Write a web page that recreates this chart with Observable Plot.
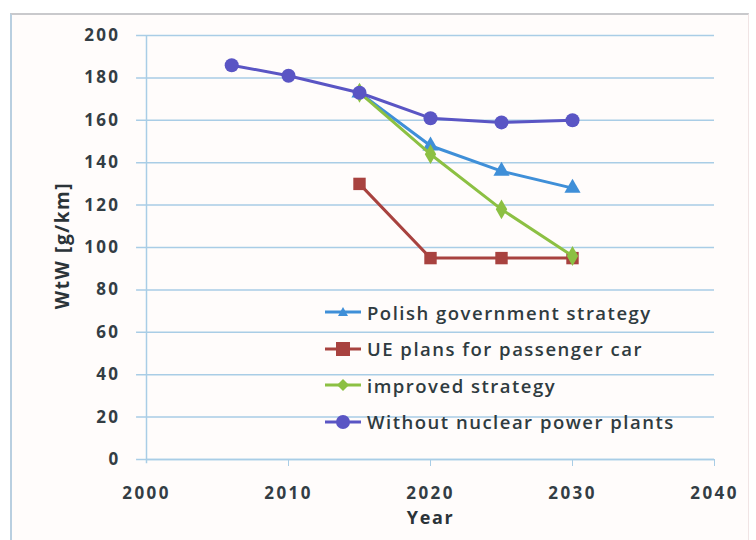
<!DOCTYPE html>
<html><head><meta charset="utf-8">
<script src="https://cdn.jsdelivr.net/npm/d3@7"></script>
<script src="https://cdn.jsdelivr.net/npm/@observablehq/plot@0.6"></script>
<style>
body{margin:0;background:#fff;}
#wrap{position:relative;width:756px;height:540px;overflow:hidden;background:#fff;}
#frame{position:absolute;left:10px;top:13px;width:736px;height:540px;border-left:2px solid #b9cfe0;border-top:2px solid #c9c9cc;border-right:1px solid #f0e4e4;background:#fffcfb;}
#chart{position:absolute;left:0;top:0;}
#chart g[aria-label$="tick label"] text{letter-spacing:2.4px;}
#chart g.lab text{letter-spacing:1.6px;}
#legend{position:absolute;left:325px;top:294px;font-family:"Open Sans",sans-serif;font-weight:600;font-size:18.5px;color:#2f3b40;letter-spacing:1.5px;}
#legend .row{height:36.5px;display:flex;align-items:center;}
#legend svg{margin-right:6px;}
</style></head><body>
<div id="wrap"><div id="frame"></div><div id="chart"></div><div id="legend"></div></div>
<script>
const seriesNames = ["Polish government strategy","UE plans for passenger car","improved strategy","Without nuclear power plants"];
const colors = ["#3f8fd8","#a8423f","#8cc043","#5a55c4"];
const polishYears = [2015,2020,2025,2030];
const polishVals = [173,148,136,128];
const ueYears = [2015,2020,2025,2030];
const ueVals = [130,95,95,95];
const improvedYears = [2015,2020,2025,2030];
const improvedVals = [173,144,118,96];
const nuclearYears = [2006,2010,2015,2020,2025,2030];
const nuclearVals = [186,181,173,161,159,160];
const yTicks = [0,20,40,60,80,100,120,140,160,180,200];
const xTicks = [2000,2010,2020,2030,2040];

const mk = (ys, vs, s) => ys.map((y,i)=>({year:y, val:vs[i], s}));
const dPolish = mk(polishYears, polishVals, seriesNames[0]);
const dUE = mk(ueYears, ueVals, seriesNames[1]);
const dImp = mk(improvedYears, improvedVals, seriesNames[2]);
const dNuc = mk(nuclearYears, nuclearVals, seriesNames[3]);

const font = "'Open Sans', sans-serif";
const tickStyle = {fontSize: 17, fontWeight: "bold", fill: "#333d44"};
const chart = Plot.plot({
  width: 756, height: 540,
  marginLeft: 146, marginRight: 42, marginTop: 35, marginBottom: 81,
  style: {background: "transparent", fontFamily: font, fontSize: "17px", fontWeight: "bold", color: "#333d44"},
  x: {domain: [2000, 2040], label: null},
  y: {domain: [0, 200], label: null},
  marks: [
    Plot.gridY(yTicks, {stroke: "#a9cde6", strokeOpacity: 1, strokeWidth: 1.5, x1: 1999.3, x2: 2040}),
    Plot.ruleX([2000], {stroke: "#a9cde6", strokeWidth: 1.5, y1: -2, y2: 200}),
    Plot.ruleY([0], {stroke: "#a9cde6", strokeWidth: 1.5}),
    Plot.axisX({ticks: [2010,2020,2030,2040], tickSize: 7, stroke: "#a9cde6", text: null, label: null}),
    Plot.axisX({ticks: xTicks, tickSize: 0, tickPadding: 27, tickFormat: d => String(d), ...tickStyle, label: null}),
    Plot.axisY({ticks: yTicks, tickSize: 0, tickPadding: 26, ...tickStyle, label: null}),
    Plot.text(["WtW [g/km]"], {frameAnchor: "left", textAnchor: "middle", dx: -84, dy: -2, rotate: -90, fontSize: 19, fontWeight: "bold", fill: "#2b3338", className: "lab"}),
    Plot.text(["Year"], {frameAnchor: "bottom", dy: 64, fontSize: 18, fontWeight: "bold", fill: "#2b3338", className: "lab"}),
    Plot.line(dUE, {x: "year", y: "val", stroke: colors[1], strokeWidth: 3}),
    Plot.dot(dUE, {x: "year", y: "val", symbol: "square", r: 7, fill: colors[1]}),
    Plot.line(dPolish, {x: "year", y: "val", stroke: colors[0], strokeWidth: 3}),
    Plot.dot(dPolish, {x: "year", y: "val", symbol: "triangle", r: 6, fill: colors[0]}),
    Plot.line(dImp, {x: "year", y: "val", stroke: colors[2], strokeWidth: 3}),
    Plot.dot(dImp, {x: "year", y: "val", symbol: "diamond", r: 6, fill: colors[2]}),
    Plot.line(dNuc, {x: "year", y: "val", stroke: colors[3], strokeWidth: 3}),
    Plot.dot(dNuc, {x: "year", y: "val", symbol: "circle", r: 7, fill: colors[3]})
  ]
});
document.getElementById("chart").appendChild(chart);

const syms = ["triangle","square","diamond","circle"];
const leg = document.getElementById("legend");
seriesNames.forEach((n,i)=>{
  const row = document.createElement("div"); row.className="row";
  const c = colors[i];
  let m;
  if (syms[i]==="triangle") m = `<path d="M18,5 L23,14 L13,14 Z" fill="${c}"/>`;
  else if (syms[i]==="square") m = `<rect x="11" y="3" width="14" height="14" fill="${c}"/>`;
  else if (syms[i]==="diamond") m = `<path d="M18,4 L24,10 L18,16 L12,10 Z" fill="${c}"/>`;
  else m = `<circle cx="18" cy="10" r="7" fill="${c}"/>`;
  row.innerHTML = `<svg width="36" height="20"><line x1="0" x2="36" y1="10" y2="10" stroke="${c}" stroke-width="3"/>${m}</svg><span>${n}</span>`;
  leg.appendChild(row);
});
</script>
</body></html>
